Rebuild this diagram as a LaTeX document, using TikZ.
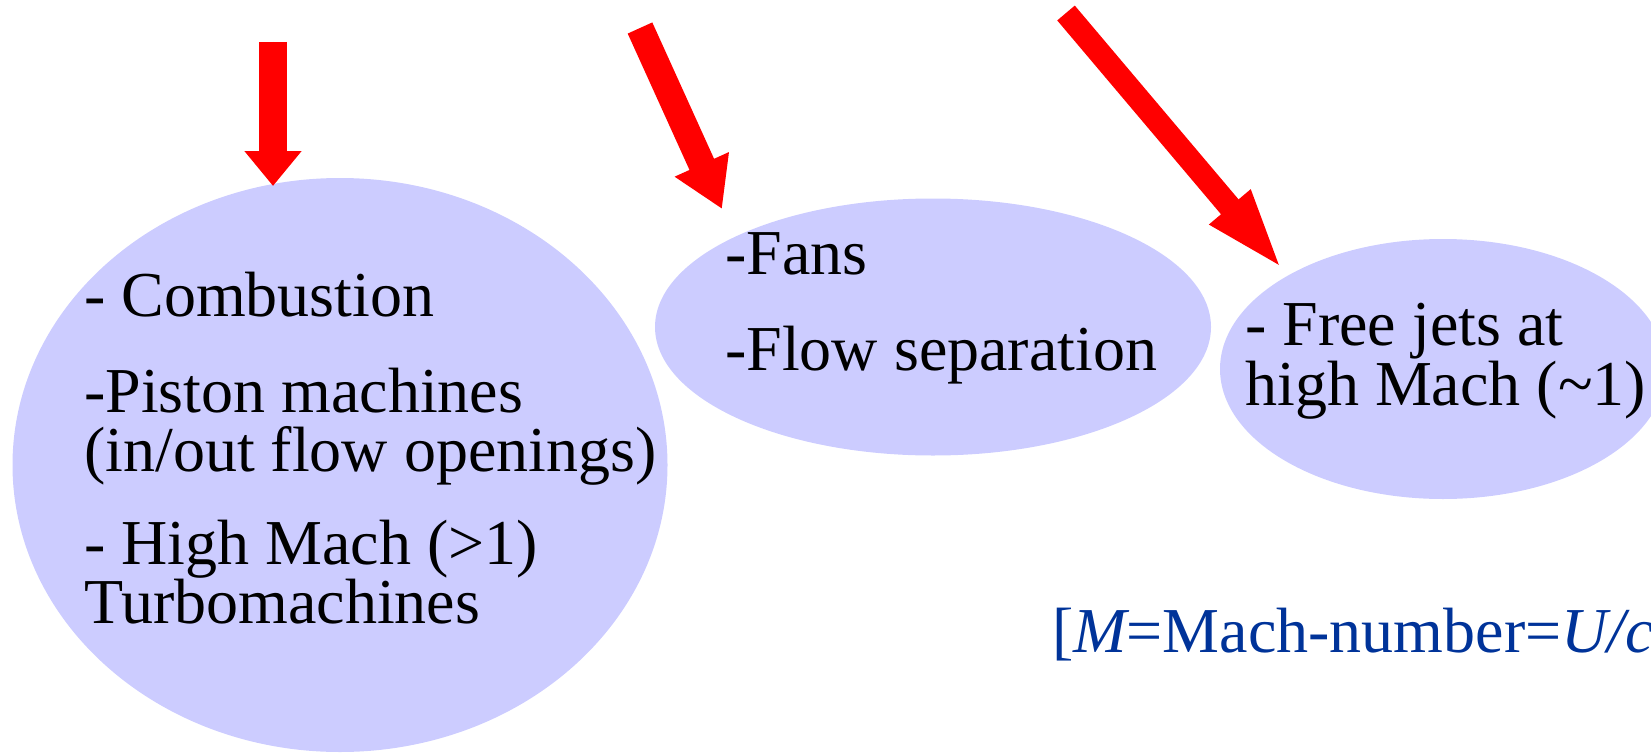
\documentclass[tikz,border=0pt]{standalone}
\usepackage{fontspec}
\setmainfont{Liberation Serif}
\usetikzlibrary{arrows.meta,shapes.geometric}
\definecolor{blobfill}{RGB}{204,204,255}
\definecolor{arrred}{RGB}{255,0,0}
\definecolor{noteblue}{RGB}{0,51,153}
\tikzset{
  blob/.style={ellipse, fill=blobfill, draw=none, inner sep=0pt},
  txt/.style={anchor=base west, inner sep=0pt, align=left, font=\fontsize{64}{58}\selectfont, text=black},
  note/.style={anchor=base west, inner sep=0pt, font=\fontsize{64}{58}\selectfont, text=noteblue},
  bigarrow/.style={draw=arrred, fill=arrred, line width=#1}
}
\begin{document}
\begin{tikzpicture}[x=1pt,y=-1pt]
\useasboundingbox (0,0) rectangle (1651,752);
% ellipses
\node[blob, minimum width=655pt, minimum height=574pt] (e1) at (340,465) {};
\node[blob, minimum width=556pt, minimum height=257pt] (e2) at (933,327) {};
\node[blob, minimum width=446pt, minimum height=260pt] (e3) at (1443,369) {};
% arrows
\coordinate (t1) at (273,42);   \coordinate (h1) at (273,186);
\coordinate (t2) at (640,28);   \coordinate (h2) at (722,209);
\coordinate (t3) at (1066,13);  \coordinate (h3) at (1284,271);
\draw[bigarrow=28pt, -{Triangle[width=55pt,length=35pt]}] (t1) -- (h1);
\draw[bigarrow=27pt, -{Triangle[width=56pt,length=49pt]}] (t2) -- (h2);
\draw[bigarrow=23pt, -{Triangle[width=47pt,length=84pt]}] (t3) -- (h3);
% texts ellipse 1 (multi-line nodes: base = last line's baseline)
\node[txt] (a1) at (84,316) {- Combustion};
\node[txt] (a2) at (84,471) {-Piston machines\\[1pt](in/out flow openings)};
\node[txt] (a4) at (84,623) {- High Mach (>1)\\[-1pt]Turbomachines};
% texts ellipse 2
\node[txt] (b1) at (725,274) {-Fans};
\node[txt] (b2) at (725,370) {-Flow separation};
% texts ellipse 3
\node[txt] (c1) at (1245,405) {- Free jets at\\high Mach (\textasciitilde1)};
% note
\node[note] (n1) at (1052,652) {[{\itshape M}=Mach-number={\itshape U/c}};
\end{tikzpicture}
\end{document}
